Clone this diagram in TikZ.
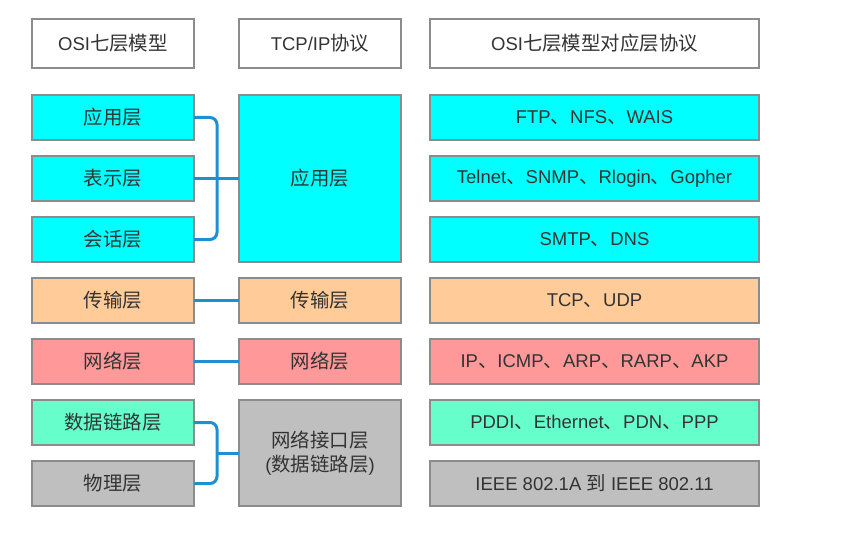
\documentclass[tikz,border=0pt]{standalone}
\usepackage{fontspec}
\setmainfont{Liberation Sans}
\newfontfamily\cjk[Scale=1.05]{Noto Sans CJK SC}
\usetikzlibrary{positioning, calc}
\definecolor{boxgray}{HTML}{8C8C8C}
\definecolor{textgray}{HTML}{333333}
\definecolor{appcyan}{HTML}{00FFFF}
\definecolor{transorange}{HTML}{FFCC99}
\definecolor{netred}{HTML}{FF9999}
\definecolor{linkgreen}{HTML}{66FFCC}
\definecolor{phygray}{HTML}{BFBFBF}
\definecolor{wireblue}{HTML}{1E90D2}
\tikzset{
  layer/.style={draw=boxgray, line width=1.2pt, text=textgray,
    minimum width=162pt, minimum height=45pt, inner sep=0pt,
    outer sep=0pt, align=center,
    font=\fontsize{18.5}{24}\selectfont}, % every box in the table
  wide/.style={minimum width=329pt}, % the protocol column
  head/.style={layer, minimum height=49pt, fill=white},
  wire/.style={draw=wireblue, line width=3pt}, % the blue brackets
}
\begin{document}
\begin{tikzpicture}[x=1pt, y=1pt]
    \useasboundingbox (0,0) rectangle (845,-540);

    % column heads
    \node[head] (osihead) at (113,-43.5) {OSI{\cjk 七层模型}};
    \node[head, right=45pt of osihead] (tcphead) {TCP/IP{\cjk 协议}};
    \node[head, wide, right=29pt of tcphead] (protohead)
    {OSI{\cjk 七层模型对应层协议}};

    % OSI seven layers
    \node[layer, fill=appcyan, below=27pt of osihead] (app) {\cjk 应用层};
    \node[layer, fill=appcyan, below=16pt of app] (pre) {\cjk 表示层};
    \node[layer, fill=appcyan, below=16pt of pre] (ses) {\cjk 会话层};
    \node[layer, fill=transorange, below=16pt of ses] (trans) {\cjk 传输层};
    \node[layer, fill=netred, below=16pt of trans] (net) {\cjk 网络层};
    \node[layer, fill=linkgreen, below=16pt of net] (link) {\cjk 数据链路层};
    \node[layer, fill=phygray, below=16pt of link] (phy) {\cjk 物理层};

    % TCP/IP layers
    \node[layer, fill=appcyan, minimum height=167pt, right=45pt of pre]
    (tcpapp) {\cjk 应用层};
    \node[layer, fill=transorange, right=45pt of trans] (tcptrans)
    {\cjk 传输层};
    \node[layer, fill=netred, right=45pt of net] (tcpnet) {\cjk 网络层};
    \node[layer, fill=phygray, minimum height=106pt, anchor=west]
    (tcplink) at ($(link.east)!0.5!(phy.east)+(45,0)$)
    {{\cjk 网络接口层}\\({\cjk 数据链路层})};

    % protocols
    \node[layer, wide, fill=appcyan, anchor=west] (pftp)
    at ($(tcpapp.east |- app.east)+(29,0)$) {FTP{\cjk 、}NFS{\cjk 、}WAIS};
    \node[layer, wide, fill=appcyan, below=16pt of pftp] (ptelnet)
    {Telnet{\cjk 、}SNMP{\cjk 、}Rlogin{\cjk 、}Gopher};
    \node[layer, wide, fill=appcyan, below=16pt of ptelnet] (psmtp)
    {SMTP{\cjk 、}DNS};
    \node[layer, wide, fill=transorange, below=16pt of psmtp] (ptcp)
    {TCP{\cjk 、}UDP};
    \node[layer, wide, fill=netred, below=16pt of ptcp] (pip)
    {IP{\cjk 、}ICMP{\cjk 、}ARP{\cjk 、}RARP{\cjk 、}AKP};
    \node[layer, wide, fill=linkgreen, below=16pt of pip] (pppp)
    {PDDI{\cjk 、}Ethernet{\cjk 、}PDN{\cjk 、}PPP};
    \node[layer, wide, fill=phygray, below=16pt of pppp] (pieee)
    {IEEE 802.1A {\cjk 到} IEEE 802.11};

    % brackets between the two models
    \coordinate (brace1) at ($(pre.east)+(23,0)$);
    \coordinate (brace2) at ($(link.east)!0.5!(phy.east)+(23,0)$);
    \draw[wire, rounded corners=7pt] (app.east) -| (brace1) |- (ses.east);
    \draw[wire] (pre.east) -- (tcpapp.west);
    \draw[wire] (trans) -- (tcptrans);
    \draw[wire] (net) -- (tcpnet);
    \draw[wire, rounded corners=7pt] (link.east) -| (brace2) |- (phy.east);
    \draw[wire] (brace2) -- (tcplink.west);
\end{tikzpicture}
\end{document}
